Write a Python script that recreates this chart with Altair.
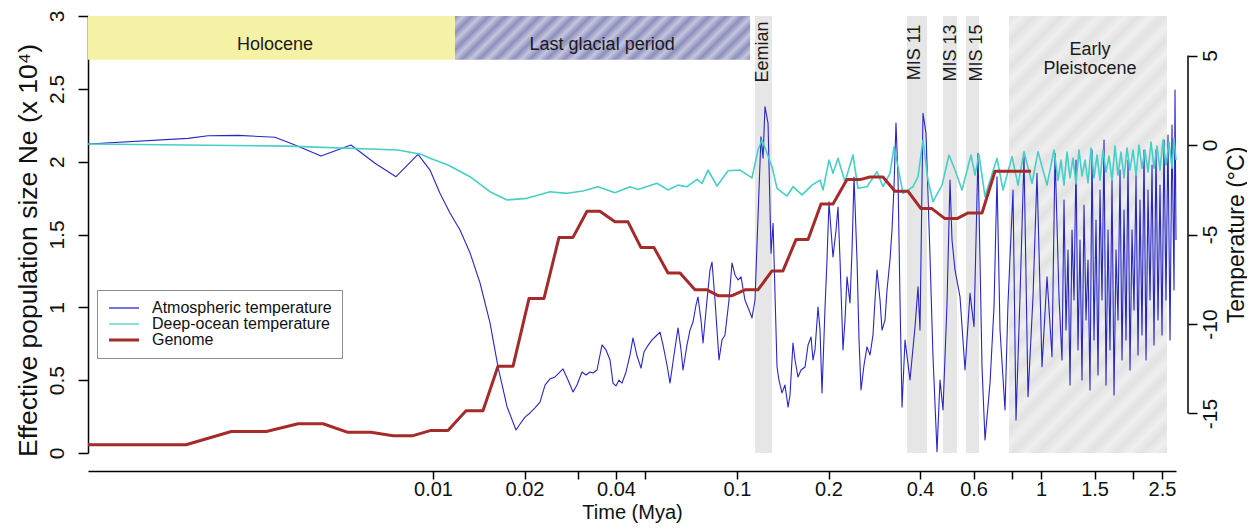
import altair as alt
import pandas as pd

# ---------------- data ----------------
series_names = ["Atmospheric temperature", "Deep-ocean temperature", "Genome"]
series_colors = ["#2727C6", "#45CFC7", "#A52A2A"]

# Atmospheric temperature (deg C) vs time (Mya), read in pieces
atm_t_holocene = [0.000733, 0.001563, 0.001819, 0.002283, 0.003022, 0.003516, 0.004281, 0.005373, 0.006445,
                  0.007556, 0.008926, 0.009775, 0.01054, 0.01137, 0.01227, 0.01324, 0.01428, 0.01540,
                  0.01636, 0.01752]
atm_c_holocene = [0.06, 0.37, 0.52, 0.54, 0.43, 0.00, -0.62, 0.00, -1.02,
                  -1.77, -0.52, -1.40, -2.70, -3.80, -4.75, -6.03, -7.71, -9.94,
                  -12.39, -14.62]
atm_t_glacial = [0.01875, 0.01933, 0.02007, 0.02085, 0.02165, 0.02249, 0.02336, 0.02426, 0.02520, 0.02617,
                 0.02677, 0.02780, 0.02888, 0.02976, 0.03091, 0.03186, 0.03284, 0.03360, 0.03463, 0.03597,
                 0.03708, 0.03822, 0.03909, 0.03999, 0.04091, 0.04186, 0.04314, 0.04447, 0.04549, 0.04689,
                 0.04833, 0.04944, 0.05057, 0.05253, 0.05414, 0.05581, 0.05709, 0.05885, 0.06020, 0.06205,
                 0.06396, 0.06544, 0.06643, 0.06847, 0.07005, 0.07165, 0.07331, 0.07442, 0.07613, 0.07730,
                 0.07967, 0.08150, 0.08275, 0.08465, 0.08726, 0.08926, 0.09131, 0.09412, 0.09628, 0.09850,
                 0.1008, 0.1031, 0.1062, 0.1095, 0.1120, 0.1146, 0.1164]
atm_c_glacial = [-15.92, -15.59, -15.20, -14.97, -14.69, -14.36, -13.41, -13.07, -12.96, -12.68,
                 -12.51, -13.13, -13.80, -13.41, -12.68, -12.85, -12.68, -12.74, -12.57, -11.17,
                 -11.45, -12.01, -13.30, -13.46, -13.13, -13.30, -12.68, -11.73, -10.78, -11.79,
                 -12.46, -11.56, -11.28, -10.89, -10.67, -10.45, -11.17, -12.29, -13.30, -11.73,
                 -10.22, -11.45, -12.57, -11.17, -10.34, -9.89, -8.94, -8.49, -9.78, -11.06,
                 -8.66, -6.98, -6.54, -8.66, -12.01, -10.89, -10.61, -8.66, -6.59, -7.26,
                 -7.54, -7.37, -8.66, -9.22, -9.66, -8.66, -5.47]
atm_t_eemian = [0.1199, 0.1218, 0.1236, 0.1265, 0.1294, 0.1314]
atm_c_eemian = [0.46, -0.74, 2.14, 1.21, -6.05, -4.37]
atm_t_mid = [0.1354, 0.1374, 0.1406, 0.1438, 0.1472, 0.1494, 0.1528, 0.1552, 0.1587, 0.1624,
             0.1674, 0.1713, 0.1752, 0.1778, 0.1805, 0.1847, 0.1875, 0.1904, 0.1948, 0.1977,
             0.2007, 0.2038, 0.2069, 0.2117, 0.2149, 0.2182, 0.2232, 0.2266, 0.2301, 0.2353,
             0.2390, 0.2426, 0.2482, 0.2520, 0.2558, 0.2617, 0.2677, 0.2739, 0.2801, 0.2844,
             0.2888, 0.2954, 0.2999, 0.3068, 0.3115, 0.3186, 0.3235, 0.3284, 0.3334, 0.3385,
             0.3437, 0.3490]
atm_c_mid = [-12.40, -13.13, -13.85, -13.41, -14.64, -13.97, -11.06, -12.01, -12.96, -12.57,
             -12.40, -11.17, -10.73, -12.01, -11.45, -9.05, -10.34, -13.85, -9.05, -6.42,
             -3.18, -4.75, -6.26, -4.75, -3.46, -6.42, -11.45, -9.78, -7.37, -8.83,
             -5.87, -1.79, -6.42, -10.89, -13.69, -12.29, -11.28, -11.73, -10.61, -8.66,
             -6.98, -8.66, -10.34, -9.78, -8.10, -6.42, -4.75, -2.35, 1.23, -1.79,
             -8.66, -14.64]
atm_t_mis = [0.3570, 0.3707, 0.3851, 0.3939, 0.3999, 0.4091, 0.4185, 0.4314, 0.4413, 0.4549,
             0.4653, 0.4760, 0.4907, 0.5019, 0.5096, 0.5213, 0.5414, 0.5624, 0.5840, 0.6020,
             0.6205, 0.6396, 0.6543, 0.6796, 0.7005, 0.7166, 0.7331, 0.7613, 0.7788, 0.8089,
             0.8275, 0.8529, 0.8792, 0.9062, 0.9412, 0.9702, 1.0076, 1.0465, 1.0869, 1.1119, 1.1461]
atm_c_mis = [-10.89, -13.13, -10.15, -7.92, -10.34, 1.77, 0.65, -6.24, -11.83, -17.13,
             -13.13, -14.80, -8.84, -1.96, -5.31, -6.98, -8.48, -12.57, -8.29, -10.15,
             -0.46, -12.39, -16.48, -13.31, -9.03, -1.77, -10.34, -14.80, -8.84, -2.51,
             -15.36, -8.48, -0.65, -14.06, -8.48, -1.58, -12.39, -7.36, -11.83, -0.46, -8.48]
atm_t_early = [1.1724, 1.1903, 1.2085, 1.2269, 1.2457, 1.2647, 1.2840, 1.3036, 1.3234, 1.3437,
               1.3641, 1.3850, 1.4061, 1.4276, 1.4494, 1.4715, 1.4939, 1.5168, 1.5399, 1.5635,
               1.5873, 1.6116, 1.6361, 1.6612, 1.6864, 1.7123, 1.7384, 1.7650, 1.7919, 1.8193,
               1.8470, 1.8753, 1.9038, 1.9330, 1.9624, 1.9924, 2.0228, 2.0537, 2.0850, 2.1169,
               2.1491, 2.1820, 2.2153, 2.2492, 2.2834, 2.3184, 2.3536, 2.3893, 2.4259, 2.4628,
               2.5005, 2.5385, 2.5774, 2.6166, 2.6567, 2.6971, 2.7385, 2.7594, 2.7800]
atm_c_early = [-12.01, -3.07, -10.34, -5.87, -13.41, -4.75, -8.66, -0.84, -11.45, -5.31,
               -13.13, -3.35, -9.78, -6.43, -13.69, -0.28, -10.89, -4.19, -12.85, -2.51,
               -8.66, 0.28, -13.41, -4.75, -11.45, -1.96, -13.97, -5.87, -9.78, -1.40,
               -12.01, -3.63, -10.89, -0.84, -12.57, -4.75, -9.22, -1.68, -11.73, -3.07,
               -10.61, -0.28, -12.01, -2.51, -8.66, -1.12, -11.17, -0.28, -9.78, -2.24,
               -10.61, 0.28, -8.66, 0.56, -10.89, 1.12, -8.10, 3.07, -5.31]

# Deep-ocean temperature (deg C) vs time (Mya)
ocean_t = [0.000733, 0.003334, 0.007671, 0.009131, 0.009775, 0.011202, 0.013235, 0.015400, 0.017515, 0.020380,
           0.024257, 0.027592, 0.031147, 0.034897, 0.039690, 0.044467, 0.047243, 0.054557, 0.059297, 0.063962,
           0.068474, 0.073860, 0.076712, 0.080282, 0.085944, 0.093410, 0.102298, 0.112031, 0.117245, 0.120855,
           0.123627, 0.130358, 0.135389, 0.146040, 0.152834, 0.163603, 0.176491, 0.187521, 0.191824, 0.200730,
           0.206902, 0.214900, 0.226592, 0.240761, 0.250059, 0.267708, 0.288752, 0.302191, 0.318635, 0.328447,
           0.338543, 0.351591, 0.379283, 0.393925, 0.409081, 0.424903, 0.441308, 0.472431, 0.498183, 0.521322,
           0.549688, 0.588496, 0.6066, 0.6253, 0.654312, 0.716594, 0.7499, 0.8028, 0.8401, 0.8792,
           0.9341, 0.9775, 1.0465, 1.1035,
           1.1374, 1.1636, 1.1903, 1.2176, 1.2457, 1.2743, 1.3036, 1.3335, 1.3641, 1.3956,
           1.4276, 1.4604, 1.4939, 1.5284, 1.5635, 1.5994, 1.6361, 1.6736, 1.7123, 1.7516,
           1.7919, 1.8330, 1.8753, 1.9183, 1.9624, 2.0074, 2.0537, 2.1009, 2.1491, 2.1984,
           2.2492, 2.3007, 2.3536, 2.4075, 2.4628, 2.5196, 2.5774, 2.6366, 2.6971, 2.7385, 2.7800]
ocean_c = [0.06, -0.06, -0.28, -0.52, -0.74, -1.12, -1.77, -2.61, -3.07, -2.98,
           -2.61, -2.70, -2.57, -2.33, -2.67, -2.33, -2.48, -2.14, -2.51, -2.24,
           -2.33, -1.92, -2.14, -1.40, -2.29, -1.44, -1.40, -1.84, -0.28, 0.28,
           -0.17, -1.21, -2.42, -2.85, -2.33, -2.79, -2.24, -1.96, -2.51, -0.84,
           -1.58, -0.74, -2.05, -0.56, -2.42, -2.33, -1.49, -2.33, -1.58, -0.10,
           -1.21, -2.70, -2.33, -1.77, 0.28, -1.96, -3.17, -2.24, -0.56, -1.40,
           -2.51, -0.56, -1.68, -0.56, -2.89, -0.74, -2.51, -0.65, -2.24, -0.37,
           -2.14, -0.37, -2.24, -0.28,
           -1.96, -0.84, -2.24, -0.39, -1.84, -0.73, -2.18, -0.28, -1.73, -0.84,
           -2.12, -0.17, -1.84, -0.56, -1.96, -0.28, -1.51, -0.62, -1.96, -0.06,
           -1.68, -0.39, -1.84, -0.17, -1.40, -0.28, -1.68, 0.00, -1.29, -0.28,
           -1.51, 0.17, -1.29, -0.06, -1.40, 0.28, -1.12, 0.17, -1.29, 0.39, -0.84]

# Genome-based effective population size (x 10^4) vs time (Mya)
gen_t = [0.000733, 0.00154, 0.00217, 0.00283, 0.00360, 0.00435, 0.00525, 0.00625, 0.00739, 0.00860,
         0.00985, 0.01120, 0.01284, 0.01460, 0.01636, 0.01833, 0.02069, 0.02317, 0.02597, 0.02887,
         0.03211, 0.03540, 0.03968, 0.04379, 0.04831, 0.05333, 0.05929, 0.06494, 0.07273, 0.07965,
         0.08660, 0.09629, 0.1062, 0.1172, 0.1303, 0.1416, 0.1563, 0.1713, 0.1889, 0.2069,
         0.2300, 0.2539, 0.2738, 0.3020, 0.3310, 0.3652, 0.4028, 0.4376, 0.4831, 0.5293,
         0.5754, 0.6397, 0.7058, 0.9268]
gen_ne = [0.057, 0.057, 0.148, 0.148, 0.201, 0.201, 0.142, 0.142, 0.119, 0.119,
          0.155, 0.155, 0.29, 0.29, 0.595, 0.595, 1.06, 1.06, 1.48, 1.48,
          1.66, 1.66, 1.587, 1.587, 1.41, 1.41, 1.236, 1.236, 1.12, 1.12,
          1.08, 1.08, 1.12, 1.12, 1.25, 1.25, 1.465, 1.465, 1.71, 1.71,
          1.877, 1.877, 1.895, 1.895, 1.797, 1.797, 1.678, 1.678, 1.609, 1.609,
          1.648, 1.648, 1.934, 1.934]

# Climate periods
band_names = ["Holocene", "Last glacial period", "Eemian", "MIS 11", "MIS 13", "MIS 15", "Early Pleistocene"]
band_start = [0.000733, 0.01181, 0.1146, 0.3624, 0.4760, 0.5666, 0.7847]
band_end = [0.01181, 0.1104, 0.1303, 0.4217, 0.5293, 0.6253, 2.597]
band_low = [2.7, 2.7, 0, 0, 0, 0, 0]
band_high = [3, 3, 3, 3, 3, 3, 3]

flat_labels = ["Holocene", "Last glacial period", "Early", "Pleistocene"]
flat_label_t = [0.00302, 0.0360, 1.45, 1.45]
flat_label_ne = [2.80, 2.80, 2.768, 2.637]

rot_labels = ["Eemian", "MIS 11", "MIS 13", "MIS 15"]
rot_label_t = [0.1218, 0.3851, 0.5057, 0.6159]
rot_label_ne = [2.962, 2.942, 2.942, 2.942]

x_ticks = [0.01, 0.02, 0.03, 0.04, 0.05, 0.1, 0.2, 0.4, 0.6, 0.8, 1, 1.5, 2, 2.5]
ne_ticks = [0, 0.5, 1, 1.5, 2, 2.5, 3]
temp_ticks = [-15, -10, -5, 0, 5]

# ---------------- layout / style ----------------
W, H = 1088, 437
FONT = "Liberation Sans"
TXT = "#111111"

xscale = alt.Scale(type="log", domain=[0.000733, 2.78], nice=False)
nscale = alt.Scale(domain=[0, 3], nice=False, zero=False)
tscale = alt.Scale(domain=[-17.207, 7.207], nice=False, zero=False)
cscale = alt.Scale(domain=series_names, range=series_colors)


def stripes(w, h, period, c1, c2):
    s = w + h
    q = w * w + h * h
    n = max(1, int(round(s / period)))
    stops = []
    for k in range(n):
        stops.append(alt.GradientStop(offset=k / n, color=c1))
        stops.append(alt.GradientStop(offset=(k + 0.5) / n, color=c2))
    stops.append(alt.GradientStop(offset=1.0, color=c1))
    return alt.LinearGradient(gradient="linear", stops=stops, x1=0, y1=0, x2=w * s / q, y2=h * s / q)


atm_t = atm_t_holocene + atm_t_glacial + atm_t_eemian + atm_t_mid + atm_t_mis + atm_t_early
atm_c = atm_c_holocene + atm_c_glacial + atm_c_eemian + atm_c_mid + atm_c_mis + atm_c_early

bands_df = pd.DataFrame(dict(name=band_names, t0=band_start, t1=band_end, lo=band_low, hi=band_high))
atm_df = pd.DataFrame(dict(t=atm_t, temp=atm_c, series=series_names[0]))
ocean_df = pd.DataFrame(dict(t=ocean_t, temp=ocean_c, series=series_names[1]))
gen_df = pd.DataFrame(dict(t=gen_t, ne=gen_ne, series=series_names[2]))
flat_df = pd.DataFrame(dict(label=flat_labels, t=flat_label_t, ne=flat_label_ne))
rot_df = pd.DataFrame(dict(label=rot_labels, t=rot_label_t, ne=rot_label_ne))

x_axis = alt.Axis(
    orient="bottom", values=x_ticks,
    labelExpr="indexof([0.03, 0.05, 0.8, 2], datum.value) >= 0 ? '' : '' + datum.value",
    title="Time (Mya)", titleFont=FONT, titleFontSize=20, titleFontWeight="normal", titleColor=TXT,
    titleY=47.5, titleBaseline="alphabetic",
    offset=18, tickSize=8, tickWidth=1.5, tickColor="black", domainColor="black", domainWidth=1.5,
    labelFont=FONT, labelFontSize=20, labelColor=TXT, labelBaseline="alphabetic", labelPadding=16,
    labelFlush=False, labelOverlap=False, grid=False,
)
left_axis = alt.Axis(
    orient="left", values=ne_ticks, format="~g",
    title="Effective population size Ne (x 10\u2074)", titleFont=FONT, titleFontSize=26.5,
    titleFontWeight="normal", titleColor=TXT, titleAngle=270, titleBaseline="alphabetic",
    titleAlign="center", titleX=-52, titleY=234,
    tickSize=10, tickWidth=1.5, tickColor="black", domainColor="black", domainWidth=1.5,
    labelFont=FONT, labelFontSize=21, labelColor=TXT, labelAngle=270, labelAlign="center",
    labelBaseline="bottom", labelPadding=11, labelFlush=False, labelOverlap=False, grid=False,
)
right_axis = alt.Axis(
    orient="right", values=temp_ticks, labelExpr="'' + datum.value",
    title="Temperature (\u00b0C)", titleFont=FONT, titleFontSize=23, titleFontWeight="normal",
    titleColor=TXT, titleAngle=270, titleBaseline="alphabetic", titleAlign="center", titleX=55,
    offset=12, tickSize=9, tickWidth=1.5, tickColor="black", domain=False,
    labelFont=FONT, labelFontSize=21, labelColor=TXT, labelAngle=270, labelAlign="center",
    labelBaseline="top", labelPadding=2, labelFlush=False, labelOverlap=False, grid=False,
)
legend = alt.Legend(
    title=None, orient="none", legendX=9, legendY=274, padding=10,
    strokeColor="#8c8c8c", fillColor="#ffffff",
    labelFont=FONT, labelFontSize=16, labelColor=TXT, labelLimit=400, labelOffset=29,
    symbolType="M-0.6,0H2.4", symbolSize=400, rowPadding=0,
    symbolStrokeWidth=alt.ExprRef(expr="datum.value === 'Genome' ? 3 : 1.3"),
)


def xenc(field):
    return alt.X(field, scale=xscale, axis=x_axis)


def band(name, fill):
    return alt.Chart(bands_df).transform_filter(alt.datum.name == name).mark_rect(fill=fill).encode(
        x=xenc("t0:Q"),
        x2="t1:Q",
        y=alt.Y("lo:Q", scale=nscale, axis=left_axis),
        y2="hi:Q",
    )


grey = "#E6E6E6"
bands_group = alt.layer(
    band("Holocene", "#F6F2A5"),
    band("Last glacial period", stripes(295, 44, 17, "#8D8FBD", "#C4C5DD")),
    band("Eemian", grey),
    band("MIS 11", grey),
    band("MIS 13", grey),
    band("MIS 15", grey),
    band("Early Pleistocene", stripes(158, 437, 26, "#E2E2E2", "#EFEFEF")),
    alt.Chart(flat_df).mark_text(font=FONT, fontSize=18, color="#1a1a1a", align="center", baseline="middle").encode(
        x=xenc("t:Q"), y=alt.Y("ne:Q", scale=nscale, axis=left_axis), text="label:N"),
    alt.Chart(rot_df).mark_text(font=FONT, fontSize=18, color="#1a1a1a", angle=270, align="right",
                                baseline="middle").encode(
        x=xenc("t:Q"), y=alt.Y("ne:Q", scale=nscale, axis=left_axis), text="label:N"),
)

atm = alt.Chart(atm_df).mark_line(strokeWidth=1.1, strokeJoin="round").encode(
    x=xenc("t:Q"),
    y=alt.Y("temp:Q", scale=tscale, axis=right_axis),
    color=alt.Color("series:N", scale=cscale, legend=legend),
)
ocean = alt.Chart(ocean_df).mark_line(strokeWidth=1.6, strokeJoin="round").encode(
    x=xenc("t:Q"),
    y=alt.Y("temp:Q", scale=tscale, axis=right_axis),
    color=alt.Color("series:N", scale=cscale, legend=legend),
)
right_line = alt.Chart(pd.DataFrame({"a": [0]})).mark_rule(color="black", strokeWidth=1.5).encode(
    x=alt.value(W + 12),
    y=alt.YDatum(-15, scale=tscale, axis=right_axis),
    y2=alt.Y2Datum(5),
)
temp_group = alt.layer(atm, ocean, right_line)

genome = alt.Chart(gen_df).mark_line(strokeWidth=3, strokeJoin="round").encode(
    x=xenc("t:Q"),
    y=alt.Y("ne:Q", scale=nscale, axis=None),
    color=alt.Color("series:N", scale=cscale, legend=legend),
)

chart = alt.layer(bands_group, temp_group, genome).resolve_scale(y="independent").properties(
    width=W, height=H,
    padding={"left": 80, "top": 8, "right": 71, "bottom": 70},
    autosize=alt.AutoSizeParams(type="none"),
    background="white",
).configure_view(stroke=None)

chart.save("out.html", embed_options={"renderer": "svg", "actions": False})
